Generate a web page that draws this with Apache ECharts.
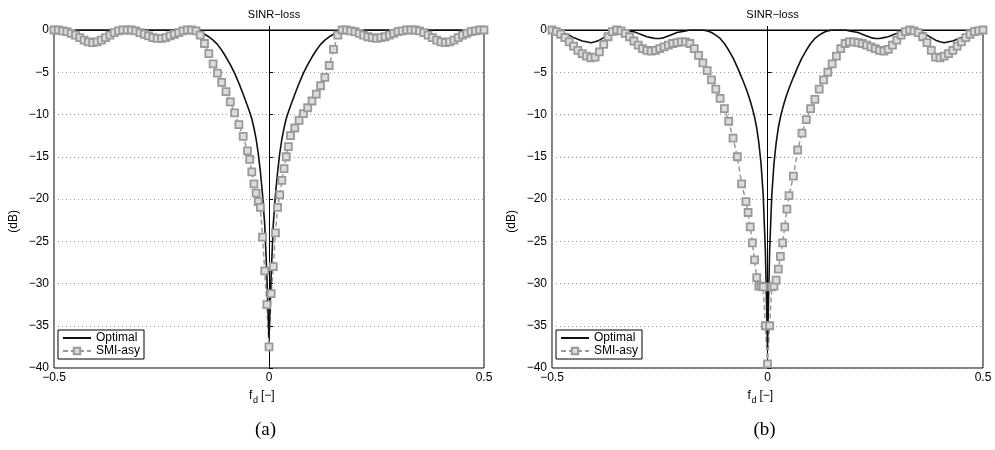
<!DOCTYPE html>
<html><head><meta charset="utf-8">
<script src="https://cdn.jsdelivr.net/npm/echarts@6/dist/echarts.min.js"></script>
<style>html,body{margin:0;padding:0;background:#fff}#c{width:995px;height:450px}</style>
</head><body><div id="c"></div>
<script>
const fd = [-0.50,-0.49,-0.48,-0.47,-0.46,-0.45,-0.44,-0.43,-0.42,-0.41,-0.40,-0.39,-0.38,-0.37,-0.36,-0.35,-0.34,-0.33,-0.32,-0.31,-0.30,-0.29,-0.28,-0.27,-0.26,-0.25,-0.24,-0.23,-0.22,-0.21,-0.20,-0.19,-0.18,-0.17,-0.16,-0.15,-0.14,-0.13,-0.12,-0.11,-0.10,-0.09,-0.08,-0.07,-0.06,
-0.05,-0.045,-0.04,-0.035,-0.03,-0.025,-0.02,-0.015,-0.01,-0.005,0,0.005,0.01,0.015,0.02,0.025,0.03,0.035,0.04,0.045,0.05,
0.06,0.07,0.08,0.09,0.10,0.11,0.12,0.13,0.14,0.15,0.16,0.17,0.18,0.19,0.20,0.21,0.22,0.23,0.24,0.25,0.26,0.27,0.28,0.29,0.30,0.31,0.32,0.33,0.34,0.35,0.36,0.37,0.38,0.39,0.40,0.41,0.42,0.43,0.44,0.45,0.46,0.47,0.48,0.49,0.50];

const optimalA = [0,0,0,0,0,0,0,0,0,0,0,0,0,0,0,0,0,0,0,0,0,0,0,0,0,0,0,0,0,0,0,0,-0.05,-0.15,-0.3,-0.5,-0.8,-1.2,-1.7,-2.4,-3.2,-4.1,-5.1,-6.3,-7.6,
-9.0,-9.7,-10.5,-11.6,-12.9,-14.6,-16.8,-19.5,-23,-29,-36.5,-29,-23,-19.5,-16.8,-14.6,-12.9,-11.6,-10.5,-9.7,-9.0,
-7.6,-6.3,-5.1,-4.1,-3.2,-2.4,-1.7,-1.2,-0.8,-0.5,-0.3,-0.15,-0.05,0,0,0,0,0,0,0,0,0,0,0,0,0,0,0,0,0,0,0,0,0,0,0,0,0,0,0,0,0,0,0,0,0];

const smiA = [0,0,-0.1,-0.2,-0.4,-0.6,-0.9,-1.2,-1.4,-1.5,-1.4,-1.2,-0.9,-0.6,-0.3,-0.1,0,0,0,-0.1,-0.3,-0.5,-0.7,-0.9,-1.0,-1.0,-0.9,-0.7,-0.5,-0.3,-0.1,0,0,
-0.1,-0.6,-1.6,-2.8,-4.0,-5.1,-6.2,-7.3,-8.5,-9.8,-11.2,-12.6,
-14.3,-15.3,-16.8,-18.2,-19.3,-20.3,-21,-24.5,-28.5,-32.5,-37.5,-31.2,-28,-24,-21,-19.5,-17.8,-16.4,-15,-13.8,-12.5,
-11.6,-10.7,-9.9,-9.2,-8.4,-7.6,-6.6,-5.6,-4.2,-2.3,-0.6,
0,0,-0.1,-0.2,-0.4,-0.6,-0.8,-0.9,-1.0,-0.9,-0.8,-0.6,-0.4,-0.2,-0.1,0,0,0,-0.1,-0.3,-0.6,-0.9,-1.2,-1.4,-1.5,-1.4,-1.2,-0.9,-0.6,-0.4,-0.2,-0.1,0,0];

const optimalB = [0,-0.1,-0.2,-0.4,-0.6,-0.9,-1.1,-1.3,-1.4,-1.5,-1.4,-1.2,-0.9,-0.6,-0.3,-0.1,0,0,-0.1,-0.2,-0.4,-0.6,-0.8,-0.9,-1.0,-1.0,-0.9,-0.7,-0.5,-0.3,-0.2,-0.1,0,0,0,0,-0.1,-0.3,-0.6,-1.0,-1.6,-2.4,-3.3,-4.4,-5.6,
-6.9,-7.6,-8.4,-9.3,-10.3,-11.6,-13.4,-15.8,-19.5,-26,-37.5,-26,-19.5,-15.8,-13.4,-11.6,-10.3,-9.3,-8.4,-7.6,-6.9,
-5.6,-4.4,-3.3,-2.4,-1.6,-1.0,-0.6,-0.3,-0.1,0,0,0,0,-0.1,-0.2,-0.3,-0.5,-0.7,-0.9,-1.0,-1.0,-0.9,-0.8,-0.6,-0.4,-0.2,-0.1,0,0,-0.1,-0.3,-0.6,-0.9,-1.2,-1.4,-1.5,-1.4,-1.3,-1.1,-0.9,-0.6,-0.4,-0.2,-0.1,0];

const smiB = [0,-0.2,-0.5,-0.9,-1.4,-1.9,-2.4,-2.8,-3.1,-3.3,-3.2,-2.6,-1.7,-0.8,-0.2,0,-0.1,-0.4,-0.8,-1.3,-1.8,-2.2,-2.4,-2.5,-2.4,-2.2,-2.0,-1.8,-1.6,-1.5,-1.4,-1.4,-1.6,-2.2,-3.0,-3.9,-4.8,-5.9,-7.0,-8.1,-9.3,-10.8,-12.8,-15,-18.2,
-20.3,-21.6,-23.3,-25.2,-27.2,-29.3,-30.3,-30.3,-30.4,-35,-39.5,-35,-30.4,-30.3,-29.6,-28.3,-26.8,-25.2,-23.3,-21.2,-19.6,
-17.3,-14.2,-12.2,-10.6,-9.3,-8.2,-7.0,-5.9,-5.0,-4.0,-3.1,-2.2,-1.6,-1.4,-1.4,-1.5,-1.6,-1.8,-2.0,-2.2,-2.4,-2.5,-2.3,-1.8,-1.2,-0.6,-0.2,0,-0.1,-0.3,-0.8,-1.5,-2.4,-3.2,-3.3,-3.1,-2.8,-2.4,-1.9,-1.4,-0.9,-0.5,-0.2,-0.1,0];

const titles = ['SINR\u2212loss','SINR\u2212loss'];
const captions = ['(a)','(b)'];

function pairs(ys){const n=Math.min(fd.length,ys.length);const o=[];for(let i=0;i<n;i++)o.push([fd[i],ys[i]]);return o;}
function fmt(v){return v<0?'\u2212'+String(-v):String(v);}

const grids=[{left:54,top:30,width:430,height:338},{left:552,top:30,width:431,height:338}];
const font='Liberation Sans, Arial, sans-serif';
const chart=echarts.init(document.getElementById('c'));
const xAxis=[],yAxis=[],series=[],title=[],legend=[],graphic=[];
grids.forEach((g,i)=>{
  g.show=true; g.borderColor='#000'; g.borderWidth=1;
  xAxis.push({type:'value',gridIndex:i,min:-0.5,max:0.5,interval:0.5,
    axisLine:{lineStyle:{color:'#000'}},axisTick:{inside:true,length:4,lineStyle:{color:'#000'}},
    axisLabel:{color:'#000',fontFamily:font,fontSize:12,margin:4,formatter:fmt},
    splitLine:{show:true,lineStyle:{color:'#999',type:[1,3]}}});
  yAxis.push({type:'value',gridIndex:i,min:-40,max:0,interval:5,
    axisLine:{lineStyle:{color:'#000'}},axisTick:{inside:true,length:4,lineStyle:{color:'#000'}},
    axisLabel:{color:'#000',fontFamily:font,fontSize:12,margin:5,formatter:fmt},
    splitLine:{show:true,lineStyle:{color:'#999',type:[1,3]}}});
  title.push({text:titles[i],left:g.left+g.width/2,top:4,textAlign:'center',textStyle:{fontFamily:font,fontSize:11,fontWeight:'normal',color:'#000'}});
  const smi = i===0?smiA:smiB, opt=i===0?optimalA:optimalB;
  series.push({name:'SMI-asy',type:'line',xAxisIndex:i,yAxisIndex:i,data:pairs(smi),
    symbol:'rect',symbolSize:7,showAllSymbol:true,
    itemStyle:{color:'#dcdcdc',borderColor:'#999',borderWidth:1.8},
    lineStyle:{color:'#999',width:1.5,type:[5,3]},animation:false});
  series.push({name:'Optimal',type:'line',xAxisIndex:i,yAxisIndex:i,data:pairs(opt),
    symbol:'none',itemStyle:{color:'#111'},lineStyle:{color:'#111',width:1.6},z:3,animation:false});
  graphic.push({type:'text',left:g.left+g.width/2-20,top:390,style:{text:'f',font:'12px '+font,fill:'#000'}});
  graphic.push({type:'text',left:g.left+g.width/2-16,top:396,style:{text:'d',font:'9px '+font,fill:'#000'}});
  graphic.push({type:'text',left:g.left+g.width/2-8,top:390,style:{text:'[\u2212]',font:'12px '+font,fill:'#000'}});
  graphic.push({type:'text',left:g.left-46,top:210,rotation:Math.PI/2,style:{text:'(dB)',font:'12px '+font,fill:'#000'}});
  graphic.push({type:'text',left:g.left+g.width/2-14,top:421,style:{text:captions[i],font:'19px Liberation Serif, Times New Roman, serif',fill:'#000'}});
  legend.push({data:[{name:'Optimal',itemStyle:{opacity:0}},'SMI-asy'],left:g.left+4,top:330,orient:'vertical',itemGap:1,itemWidth:28,itemHeight:8,
    backgroundColor:'#fff',borderColor:'#000',borderWidth:1,padding:[2,4,2,4],
    textStyle:{fontFamily:font,fontSize:12,color:'#000'}});
});
chart.setOption({animation:false,grid:grids,xAxis,yAxis,series,title,legend,graphic});
</script></body></html>
